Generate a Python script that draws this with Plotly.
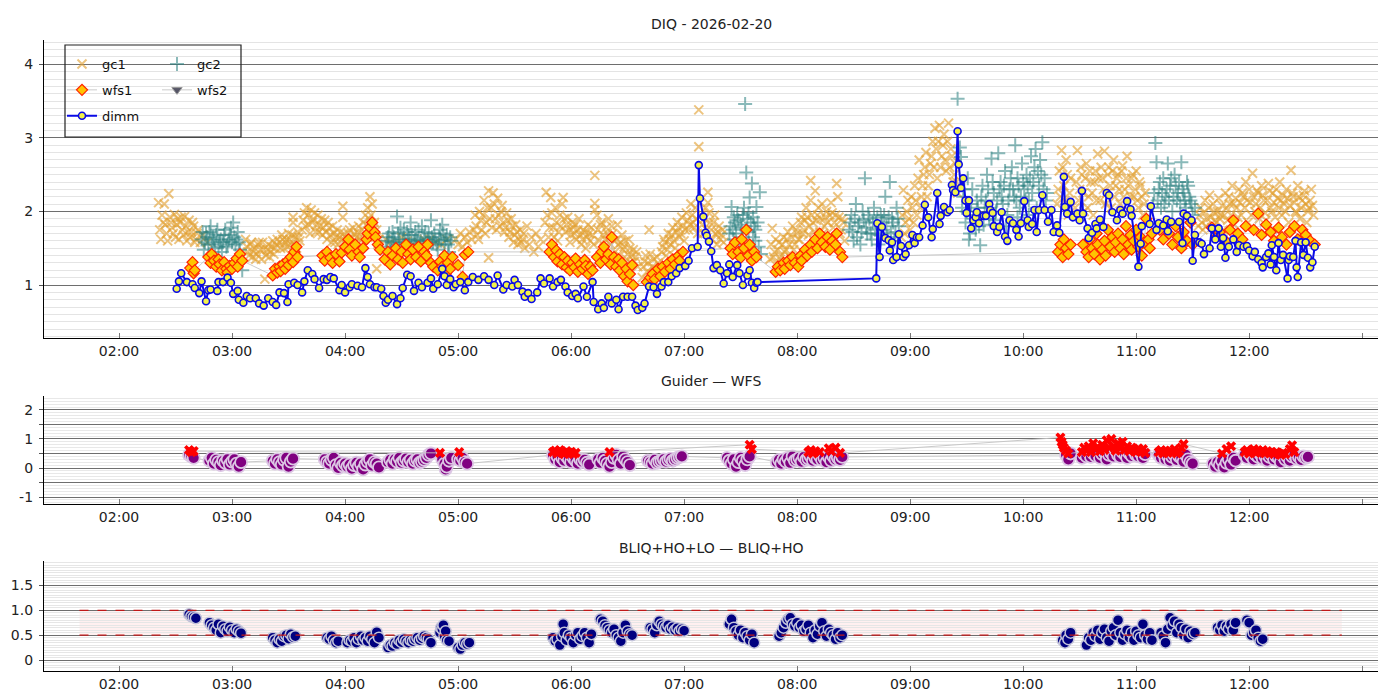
import pandas as pd
import plotly.graph_objects as go

# ---------------- data (hours after midnight, 2026-02-20) ----------------
gc1_h = [2.35, 2.37, 2.39, 2.40, 2.42, 2.44, 2.45, 2.47, 2.49, 2.50, 2.52, 2.54, 2.56, 2.58, 2.60, 2.62, 2.64, 2.66, 2.68, 2.70, 2.72,
         2.74, 2.78,
         3.12, 3.14, 3.16, 3.18, 3.20, 3.22, 3.24, 3.26, 3.28, 3.29, 3.30, 3.32, 3.34, 3.36, 3.38, 3.40,
         3.42, 3.44, 3.46, 3.48, 3.50, 3.52, 3.54, 3.54, 3.56, 3.58, 3.60,
         3.62, 3.64, 3.66, 3.68, 3.70, 3.72, 3.74, 3.76, 3.78, 3.80, 3.82, 3.84, 3.86, 3.88, 3.90, 3.92, 3.94, 3.96, 3.98, 3.98, 4.00,
         4.02, 4.04, 4.06, 4.08, 4.10, 4.12, 4.14, 4.16, 4.18, 4.20, 4.22, 4.24, 4.26, 4.28, 4.28, 4.30,
         4.36, 4.45, 4.55, 4.65, 4.75, 4.85,
         4.98, 5.00, 5.02, 5.04, 5.06, 5.08, 5.10, 5.12, 5.14,
         5.15, 5.17, 5.19, 5.21, 5.23, 5.25, 5.27, 5.27, 5.29, 5.31, 5.33, 5.35, 5.37, 5.39, 5.41, 5.43, 5.45, 5.47, 5.49, 5.51, 5.53, 5.55, 5.57, 5.59,
         5.61, 5.63, 5.65, 5.67, 5.69, 5.71, 5.73,
         5.77, 5.78, 5.80, 5.82, 5.84, 5.86, 5.88, 5.90, 5.92, 5.93, 5.95, 5.97, 5.99, 6.01, 6.03, 6.05, 6.07, 6.09, 6.11, 6.13, 6.15, 6.17, 6.19, 6.21, 6.21, 6.21,
         6.23, 6.25, 6.27, 6.29, 6.31, 6.33, 6.35, 6.37, 6.39, 6.41, 6.43, 6.45, 6.47, 6.49, 6.51, 6.53, 6.55, 6.57, 6.59,
         6.63, 6.65, 6.67, 6.69, 6.70, 6.72, 6.74, 6.76, 6.78,
         6.80, 6.82, 6.84, 6.86, 6.88, 6.90, 6.92, 6.94, 6.96, 6.98, 7.00, 7.02, 7.04, 7.06, 7.08, 7.10, 7.12, 7.13, 7.13,
         7.15, 7.17, 7.19, 7.21, 7.21, 7.23, 7.25, 7.27, 7.29, 7.31, 7.33, 7.35,
         7.76, 7.78, 7.80, 7.82, 7.84, 7.86, 7.88, 7.90, 7.92, 7.94, 7.96, 7.98, 8.00, 8.02, 8.04, 8.06, 8.08, 8.10, 8.12, 8.12,
         8.14, 8.16, 8.18, 8.20, 8.22, 8.24, 8.26, 8.28, 8.30, 8.32, 8.34, 8.35, 8.36, 8.38, 8.40, 8.42,
         8.92, 8.94, 8.96, 8.98, 9.00, 9.02, 9.04, 9.06, 9.08, 9.10, 9.12, 9.14, 9.16, 9.18, 9.20, 9.22, 9.24, 9.26, 9.28, 9.30, 9.32, 9.34, 9.36, 9.38, 9.40, 9.42,
         10.30, 10.32, 10.34, 10.36, 10.38, 10.40, 10.42,
         10.46, 10.48, 10.50, 10.52, 10.54, 10.56, 10.58, 10.60, 10.62, 10.64, 10.66, 10.68, 10.70, 10.72, 10.74, 10.76,
         10.78, 10.80, 10.82, 10.84, 10.86, 10.88, 10.90, 10.92, 10.94, 10.96, 10.98, 11.00, 11.02, 11.04, 11.06, 11.08,
         11.55, 11.57, 11.59, 11.61, 11.63, 11.65, 11.67, 11.69, 11.71, 11.73, 11.75, 11.77, 11.79, 11.81, 11.83, 11.85, 11.87, 11.89,
         11.91, 11.93, 11.95, 11.97, 11.99, 12.01, 12.03, 12.05, 12.07, 12.09, 12.11, 12.13, 12.15, 12.17, 12.19, 12.21, 12.23, 12.25,
         12.27, 12.29, 12.31, 12.33, 12.35, 12.37, 12.39, 12.41, 12.43, 12.45, 12.47, 12.49, 12.51, 12.53, 12.55, 12.57,
         # denser readings inside the bands
         2.36, 2.38, 2.41, 2.43, 2.46, 2.48, 2.51, 2.53, 2.55, 2.57, 2.59, 2.61, 2.63, 2.65, 2.67, 2.69,
         3.13, 3.15, 3.17, 3.19, 3.21, 3.23, 3.25, 3.27, 3.31, 3.33, 3.35, 3.37, 3.39,
         3.43, 3.45, 3.47, 3.49, 3.51, 3.53, 3.55, 3.57, 3.59,
         3.63, 3.65, 3.67, 3.69, 3.71, 3.73, 3.75, 3.77, 3.79, 3.81, 3.83, 3.85, 3.87, 3.89, 3.91, 3.93, 3.95, 3.97, 3.99,
         4.03, 4.05, 4.07, 4.09, 4.11, 4.13, 4.15, 4.17, 4.19, 4.21, 4.23, 4.25, 4.27, 4.29,
         4.40, 4.50, 4.60, 4.70, 4.80, 4.90,
         5.16, 5.18, 5.20, 5.22, 5.24, 5.26, 5.28, 5.30, 5.32, 5.34, 5.36, 5.38, 5.40, 5.42, 5.44, 5.46, 5.48, 5.50, 5.52, 5.54, 5.56, 5.58,
         5.79, 5.81, 5.83, 5.85, 5.87, 5.89, 5.91, 5.94, 5.96, 5.98, 6.00, 6.02, 6.04, 6.06, 6.08, 6.10, 6.12, 6.14, 6.16, 6.18, 6.20,
         6.24, 6.26, 6.28, 6.30, 6.32, 6.34, 6.36, 6.38, 6.40, 6.42, 6.44, 6.46, 6.48, 6.50, 6.52, 6.54, 6.56, 6.58,
         6.64, 6.66, 6.68, 6.71, 6.73, 6.75, 6.77,
         6.81, 6.83, 6.85, 6.87, 6.89, 6.91, 6.93, 6.95, 6.97, 6.99, 7.01, 7.03, 7.05, 7.07, 7.09, 7.11,
         7.16, 7.18, 7.20, 7.22, 7.24, 7.26, 7.28, 7.30, 7.32, 7.34,
         7.77, 7.79, 7.81, 7.83, 7.85, 7.87, 7.89, 7.91, 7.93, 7.95, 7.97, 7.99, 8.01, 8.03, 8.05, 8.07, 8.09, 8.11, 8.13, 8.15,
         8.17, 8.19, 8.21, 8.23, 8.25, 8.27, 8.29, 8.31, 8.33, 8.37, 8.39, 8.41,
         8.93, 8.95, 8.97, 8.99, 9.01, 9.03, 9.05, 9.07, 9.09, 9.11, 9.13, 9.15, 9.17, 9.19, 9.21, 9.23, 9.25, 9.27, 9.29, 9.31,
         9.33, 9.35, 9.37, 9.39, 9.41,
         10.31, 10.33, 10.35, 10.37, 10.39, 10.41,
         10.47, 10.49, 10.51, 10.53, 10.55, 10.57, 10.59, 10.61, 10.63, 10.65, 10.67, 10.69, 10.71, 10.73, 10.75, 10.77,
         10.79, 10.81, 10.83, 10.85, 10.87, 10.89, 10.91, 10.93, 10.95, 10.97, 10.99, 11.01, 11.03, 11.05, 11.07,
         11.56, 11.58, 11.60, 11.62, 11.64, 11.66, 11.68, 11.70, 11.72, 11.74, 11.76, 11.78, 11.80, 11.82, 11.84, 11.86, 11.88,
         11.90, 11.92, 11.94, 11.96, 11.98, 12.00, 12.02, 12.04, 12.06, 12.08, 12.10, 12.12, 12.14, 12.16, 12.18, 12.20, 12.22,
         12.24, 12.26, 12.28, 12.30, 12.32, 12.34, 12.36, 12.38, 12.40, 12.42, 12.44, 12.46, 12.48, 12.50, 12.52, 12.54, 12.56]
gc1_v = [2.12, 1.62, 1.85, 2.10, 1.70, 2.24, 1.92, 1.78, 1.96, 1.65, 1.90, 1.85, 1.75, 1.93, 1.60, 1.88, 1.72, 1.80, 1.62, 1.75, 1.58,
         1.68, 1.58,
         1.62, 1.45, 1.55, 1.38, 1.50, 1.42, 1.58, 1.35, 1.48, 1.08, 1.40, 1.55, 1.45, 1.60, 1.50, 1.62,
         1.58, 1.68, 1.50, 1.62, 1.70, 1.55, 1.92, 1.85, 1.65, 1.72, 1.60,
         1.75, 1.98, 2.05, 1.82, 2.02, 1.90, 1.72, 1.95, 1.80, 1.68, 1.88, 1.62, 1.78, 1.58, 1.70, 1.65, 1.55, 1.72, 2.07, 1.92, 1.60,
         1.62, 1.75, 1.58, 1.70, 1.65, 1.80, 1.60, 1.85, 1.95, 2.05, 2.20, 2.10, 1.85, 1.75, 1.22, 1.62,
         1.62, 1.55, 1.60, 1.58, 1.62, 1.55,
         1.62, 1.55, 1.70, 1.52, 1.65, 1.58, 1.72, 1.62, 1.75,
         1.95, 1.68, 2.00, 1.75, 2.15, 1.85, 2.28, 1.37, 2.05, 2.25, 1.90, 2.18, 1.80, 2.08, 1.72, 1.98, 1.65, 1.90, 1.58, 1.82, 1.55, 1.75, 1.62, 1.50,
         1.80, 1.55, 1.65, 1.45, 1.70, 1.52, 1.62,
         1.85, 2.26, 1.65, 2.19, 1.78, 2.05, 1.60, 1.95, 2.10, 2.19, 1.72, 1.92, 1.58, 1.85, 1.70, 1.62, 1.90, 1.55, 1.75, 1.50, 1.82, 1.60, 1.68, 2.49, 2.11, 2.02,
         1.95, 1.60, 1.85, 1.50, 1.78, 1.90, 1.55, 1.70, 1.45, 1.82, 1.40, 1.68, 1.52, 1.35, 1.62, 1.30, 1.48, 1.38, 1.25,
         1.10, 1.32, 1.18, 1.75, 1.42, 1.25, 1.05, 1.38, 1.20,
         1.45, 1.62, 1.40, 1.70, 1.55, 1.78, 1.50, 1.85, 1.65, 1.92, 1.60, 1.98, 1.75, 2.10, 1.85, 2.05, 1.70, 3.38, 2.88,
         1.95, 1.70, 2.05, 2.26, 2.12, 1.85, 1.62, 1.95, 1.55, 1.80, 1.68, 1.58,
         1.35, 1.77, 1.45, 1.30, 1.58, 1.40, 1.65, 1.48, 1.72, 1.38, 1.80, 1.55, 1.70, 1.62, 1.92, 1.75, 2.05, 1.68, 2.42, 2.15,
         1.85, 2.28, 1.95, 1.72, 2.10, 1.80, 2.00, 1.65, 2.12, 1.78, 1.95, 2.38, 2.20, 1.70, 1.90, 1.60,
         1.65, 2.29, 1.85, 2.15, 1.75, 2.05, 2.35, 1.95, 2.70, 2.20, 2.50, 2.80, 2.35, 2.65, 2.95, 3.13, 2.45, 3.17, 2.75, 3.05, 2.55, 3.20, 2.85, 2.40, 2.65, 2.25,
         2.10, 2.55, 2.83, 2.35, 2.70, 1.95, 2.45,
         2.05, 2.83, 2.30, 2.50, 2.00, 2.65, 2.20, 2.40, 1.95, 2.55, 2.78, 2.15, 2.45, 2.82, 2.25, 2.60,
         2.05, 2.70, 2.35, 2.50, 2.10, 2.62, 2.30, 2.75, 2.00, 2.45, 2.20, 2.55, 2.05, 2.35, 1.95, 2.25,
         1.80, 2.05, 1.75, 2.15, 1.90, 2.22, 1.78, 2.00, 1.85, 2.18, 1.95, 1.75, 2.25, 1.88, 2.10, 2.35, 1.82, 2.05,
         2.30, 1.95, 2.20, 2.40, 1.85, 2.12, 2.52, 2.00, 2.28, 1.90, 2.35, 2.15, 1.88, 2.38, 2.05, 2.25, 1.92, 2.18,
         2.40, 1.95, 2.10, 2.30, 1.85, 2.56, 2.20, 2.00, 2.35, 1.90, 2.15, 2.28, 1.85, 2.05, 2.30, 1.95,
         # denser readings inside the bands
         1.75, 1.95, 1.82, 1.60, 1.85, 1.70, 1.82, 1.62, 1.92, 1.68, 1.80, 1.72, 1.65, 1.85, 1.58, 1.70,
         1.52, 1.40, 1.58, 1.45, 1.35, 1.55, 1.48, 1.58, 1.48, 1.38, 1.52, 1.42, 1.55,
         1.50, 1.62, 1.58, 1.52, 1.62, 1.68, 1.55, 1.50, 1.65,
         1.88, 1.80, 1.95, 1.70, 1.85, 1.98, 1.82, 1.72, 1.90, 1.78, 1.72, 1.85, 1.68, 1.80, 1.58, 1.75, 1.65, 1.62, 1.70,
         1.70, 1.62, 1.78, 1.58, 1.72, 1.65, 1.75, 1.68, 1.82, 1.90, 1.95, 1.75, 1.65, 1.55,
         1.58, 1.65, 1.55, 1.62, 1.58, 1.62,
         1.80, 1.62, 1.88, 1.95, 1.70, 2.05, 1.90, 1.78, 2.10, 1.75, 1.95, 2.00, 1.85, 1.78, 1.88, 1.72, 1.80, 1.68, 1.72, 1.62, 1.58, 1.70,
         1.95, 1.78, 1.98, 1.65, 1.85, 1.72, 1.80, 1.90, 1.82, 1.75, 1.68, 1.78, 1.82, 1.75, 1.68, 1.62, 1.72, 1.65, 1.70, 1.78, 1.55,
         1.75, 1.82, 1.68, 1.62, 1.70, 1.65, 1.80, 1.60, 1.62, 1.55, 1.58, 1.48, 1.60, 1.42, 1.50, 1.40, 1.32, 1.45,
         1.25, 1.40, 1.30, 1.15, 1.35, 1.22, 1.30,
         1.52, 1.58, 1.48, 1.62, 1.68, 1.60, 1.72, 1.78, 1.70, 1.80, 1.75, 1.88, 1.82, 1.95, 1.78, 1.90,
         1.82, 1.90, 1.75, 1.98, 1.75, 1.85, 1.70, 1.72, 1.62, 1.75,
         1.55, 1.38, 1.62, 1.48, 1.35, 1.55, 1.45, 1.62, 1.55, 1.65, 1.48, 1.75, 1.62, 1.85, 1.70, 1.88, 1.92, 1.80, 1.95, 1.72,
         1.88, 2.05, 1.90, 1.70, 1.92, 1.85, 1.95, 1.98, 1.85, 1.92, 1.75, 1.85,
         1.95, 1.70, 2.00, 1.90, 2.20, 1.85, 2.15, 2.45, 2.05, 2.35, 2.60, 2.20, 2.50, 2.75, 2.60, 2.85, 2.95, 2.60, 2.90, 2.70,
         2.95, 2.60, 2.75, 2.50, 2.40,
         2.30, 2.20, 2.60, 2.15, 2.50, 2.25,
         2.40, 2.15, 2.60, 2.25, 2.45, 2.05, 2.55, 2.25, 2.40, 2.15, 2.45, 2.60, 2.30, 2.10, 2.50, 2.35,
         2.55, 2.20, 2.45, 2.30, 2.55, 2.20, 2.45, 2.35, 2.20, 2.50, 2.30, 2.15, 2.40, 2.20, 2.10,
         1.95, 1.85, 1.98, 1.80, 2.05, 1.92, 2.10, 1.88, 2.00, 1.90, 2.08, 1.95, 2.05, 2.20, 1.95, 2.10, 2.18,
         1.92, 2.12, 2.25, 2.05, 2.15, 2.30, 1.95, 2.20, 2.10, 2.25, 2.05, 2.22, 1.98, 2.15, 2.28, 2.00, 2.12,
         2.30, 2.05, 2.15, 2.22, 2.00, 2.18, 2.08, 2.25, 2.12, 1.98, 2.20, 2.05, 2.22, 2.10, 2.00, 2.15, 2.08]

gc2_h = [2.73, 2.75, 2.77, 2.79, 2.81, 2.83, 2.85, 2.87, 2.89, 2.91, 2.93, 2.95, 2.97, 2.99, 3.01, 3.03, 3.05, 3.07, 3.09,
         4.36, 4.38, 4.40, 4.42, 4.44, 4.46, 4.48, 4.50, 4.52, 4.54, 4.56, 4.58, 4.60, 4.62, 4.64, 4.66, 4.68, 4.70, 4.72, 4.74,
         4.76, 4.78, 4.80, 4.82, 4.84, 4.86, 4.88, 4.90, 4.92, 4.94,
         7.40, 7.42, 7.43, 7.44, 7.45, 7.47, 7.48, 7.49, 7.51, 7.52, 7.53, 7.54, 7.55, 7.56, 7.57, 7.58, 7.60, 7.61, 7.62, 7.63,
         7.64, 7.66, 7.67, 7.68,
         8.46, 8.48, 8.50, 8.52, 8.54, 8.56, 8.58, 8.60, 8.62, 8.64, 8.66, 8.68, 8.70, 8.72, 8.74, 8.76, 8.78, 8.80, 8.82, 8.84,
         8.86, 8.88, 8.90,
         9.42, 9.44, 9.45, 9.47, 9.49, 9.51, 9.53, 9.55, 9.57, 9.59, 9.61, 9.62, 9.64, 9.66, 9.68, 9.70, 9.72, 9.74, 9.76, 9.78,
         9.80, 9.82, 9.84, 9.86, 9.88, 9.90, 9.92, 9.93, 9.95, 9.97, 9.99, 10.01, 10.03, 10.05, 10.07, 10.09, 10.11, 10.13, 10.15, 10.17,
         10.19, 10.21,
         9.52, 9.58, 9.65, 9.75, 9.85, 9.95, 10.05, 10.12,
         11.15, 11.17, 11.18, 11.20, 11.22, 11.24, 11.26, 11.28, 11.30, 11.32, 11.34, 11.36, 11.38, 11.40, 11.42, 11.44, 11.46, 11.48,
         11.50, 11.52,
         # denser readings inside the bands
         2.74, 2.76, 2.78, 2.80, 2.82, 2.84, 2.86, 2.88, 2.90, 2.92, 2.94, 2.96, 2.98, 3.00, 3.02, 3.04, 3.06,
         4.37, 4.39, 4.41, 4.43, 4.45, 4.47, 4.49, 4.51, 4.53, 4.55, 4.57, 4.59, 4.61, 4.63, 4.65, 4.67, 4.69, 4.71, 4.73, 4.75,
         4.77, 4.79, 4.81, 4.83, 4.85, 4.87, 4.89, 4.91, 4.93,
         7.41, 7.44, 7.46, 7.50, 7.52, 7.55, 7.57, 7.59, 7.61, 7.63, 7.65,
         8.47, 8.49, 8.51, 8.53, 8.55, 8.57, 8.59, 8.61, 8.63, 8.65, 8.67, 8.69, 8.71, 8.73, 8.75, 8.77, 8.79, 8.81, 8.83, 8.85,
         8.87, 8.89,
         9.46, 9.48, 9.50, 9.54, 9.56, 9.60, 9.63, 9.67, 9.69, 9.71, 9.73, 9.77, 9.79, 9.81, 9.83, 9.87, 9.89, 9.91, 9.94, 9.96,
         9.98, 10.00, 10.02, 10.04, 10.06, 10.08, 10.10, 10.14, 10.16, 10.18, 10.20,
         11.16, 11.19, 11.21, 11.23, 11.25, 11.27, 11.29, 11.31, 11.33, 11.35, 11.37, 11.39, 11.41, 11.43, 11.45, 11.47, 11.49]
gc2_v = [1.62, 1.48, 1.70, 1.55, 1.80, 1.65, 1.50, 1.75, 1.58, 1.45, 1.68, 1.52, 1.62, 1.78, 1.85, 1.55, 1.72, 1.48, 1.20,
         1.52, 1.65, 1.45, 1.72, 1.58, 1.93, 1.62, 1.50, 1.75, 1.55, 1.68, 1.85, 1.48, 1.72, 1.60, 1.55, 1.80, 1.65, 1.50, 1.70,
         1.88, 1.58, 1.62, 1.48, 1.75, 1.82, 1.55, 1.68, 1.45, 1.60,
         1.70, 2.06, 1.75, 1.62, 1.85, 1.95, 1.88, 1.55, 1.78, 1.65, 2.05, 3.46, 2.53, 1.90, 1.72, 2.19, 2.38, 1.65, 1.80, 1.60,
         2.06, 1.52, 2.26, 1.42,
         1.75, 1.95, 1.60, 2.10, 1.80, 1.55, 2.00, 2.45, 1.70, 1.90, 1.62, 2.05, 1.85, 1.55, 1.95, 1.75, 2.20, 1.65, 2.40, 1.90,
         1.60, 2.05, 1.80,
         3.53, 2.87, 2.74, 2.20, 1.85, 2.45, 1.70, 2.30, 1.95, 2.15, 1.80, 1.54, 2.35, 2.05, 2.50, 1.90, 2.72, 2.25, 2.00, 2.79,
         2.40, 2.10, 2.55, 1.95, 2.30, 2.60, 2.20, 2.90, 2.45, 2.05, 2.65, 2.30, 2.50, 2.15, 2.75, 2.40, 2.85, 2.55, 2.70, 2.94,
         2.45, 2.25,
         1.62, 1.75, 1.82, 1.88, 1.80, 1.92, 1.95, 2.05,
         2.10, 2.93, 2.67, 2.30, 2.05, 2.45, 2.20, 2.65, 2.35, 2.00, 2.50, 2.15, 2.40, 2.67, 2.25, 2.05, 2.35, 2.15,
         1.95, 2.05,
         # denser readings inside the bands
         1.72, 1.58, 1.65, 1.72, 1.55, 1.62, 1.68, 1.52, 1.62, 1.58, 1.75, 1.55, 1.68, 1.58, 1.65, 1.62, 1.58,
         1.60, 1.70, 1.58, 1.65, 1.55, 1.70, 1.78, 1.62, 1.58, 1.72, 1.62, 1.68, 1.58, 1.62, 1.75, 1.60, 1.55, 1.72, 1.62, 1.58,
         1.65, 1.70, 1.55, 1.65, 1.60, 1.70, 1.62, 1.55, 1.65,
         1.80, 1.92, 1.70, 1.82, 1.95, 1.75, 1.98, 1.85, 1.92, 1.75, 1.85,
         1.85, 1.72, 1.90, 1.65, 1.85, 1.72, 1.88, 1.78, 1.95, 1.70, 1.85, 1.75, 1.92, 1.68, 1.85, 1.95, 1.80, 1.92, 1.70, 1.85,
         1.72, 1.90,
         2.05, 2.30, 2.00, 2.10, 1.90, 2.05, 2.20, 2.15, 2.30, 2.05, 2.40, 2.15, 2.30, 2.20, 2.35, 2.15, 2.45, 2.30, 2.15, 2.35,
         2.20, 2.40, 2.15, 2.35, 2.45, 2.25, 2.60, 2.35, 2.50, 2.30, 2.15,
         2.25, 2.15, 2.40, 2.25, 2.10, 2.30, 2.15, 2.45, 2.20, 2.35, 2.25, 2.10, 2.30, 2.15, 2.40, 2.20, 2.10]

wfs1_h = [2.63, 2.65, 2.66, 2.67,
          2.79, 2.81, 2.82, 2.84, 2.86, 2.88, 2.89, 2.91, 2.93, 2.95, 2.96, 2.98, 3.00, 3.02, 3.04, 3.05, 3.07, 3.09,
          3.36, 3.38, 3.40, 3.42, 3.43, 3.45, 3.47, 3.49, 3.50, 3.52, 3.54, 3.55, 3.57, 3.58,
          3.80, 3.82, 3.84, 3.87, 3.89, 3.92, 3.95,
          3.97, 4.00, 4.03, 4.04, 4.06, 4.09, 4.12, 4.13, 4.16, 4.19, 4.20, 4.22, 4.24, 4.26, 4.27, 4.29, 4.31,
          4.35, 4.38, 4.40, 4.42, 4.45, 4.47, 4.50, 4.51, 4.54, 4.56, 4.58, 4.60, 4.63, 4.65, 4.67, 4.70, 4.72, 4.73, 4.76, 4.78,
          4.82, 4.84, 4.86, 4.88, 4.89, 4.91, 4.93, 4.95, 5.00, 5.04, 5.06, 5.09,
          5.81, 5.83, 5.85, 5.87, 5.88, 5.90, 5.92, 5.94, 5.96, 5.97, 5.99, 6.01, 6.03, 6.04, 6.06, 6.08, 6.10, 6.12, 6.13, 6.15, 6.17, 6.19,
          6.23, 6.26, 6.27, 6.29, 6.31, 6.33, 6.35, 6.36, 6.38, 6.40, 6.42, 6.43, 6.45, 6.47, 6.49, 6.50, 6.52, 6.54, 6.55,
          6.67, 6.70, 6.72, 6.74, 6.77, 6.79, 6.81, 6.83, 6.86, 6.88, 6.90, 6.92, 6.95, 6.96, 6.99,
          7.41, 7.43, 7.45, 7.48, 7.50, 7.51, 7.53, 7.55, 7.57, 7.58, 7.60, 7.62, 7.64,
          7.81, 7.83, 7.85, 7.88, 7.89, 7.92, 7.94, 7.96, 7.98, 8.01, 8.03, 8.04, 8.07, 8.09, 8.12, 8.13, 8.16, 8.18, 8.20, 8.22,
          8.25, 8.27, 8.29, 8.31, 8.34, 8.35, 8.38, 8.40,
          10.31, 10.33, 10.35, 10.36, 10.38, 10.40, 10.42,
          10.53, 10.56, 10.58, 10.59, 10.61, 10.63, 10.65, 10.66, 10.68, 10.70, 10.72, 10.73, 10.75, 10.77, 10.79, 10.81, 10.82, 10.84,
          10.86, 10.88, 10.89, 10.91, 10.93, 10.95, 10.96, 10.98, 11.00, 11.02, 11.04, 11.05, 11.07, 11.09, 11.11, 11.12, 11.14,
          11.21, 11.24, 11.27, 11.29, 11.32, 11.35, 11.37, 11.40, 11.42, 11.45, 11.48, 11.50,
          11.67, 11.71, 11.74, 11.79, 11.83, 11.86, 11.90, 11.94, 11.97, 12.04, 12.08, 12.11, 12.15, 12.19, 12.22, 12.26, 12.29, 12.33,
          12.36, 12.40, 12.43, 12.47, 12.50, 12.54, 12.58]
wfs1_v = [1.23, 1.31, 1.16, 1.20,
          1.38, 1.30, 1.42, 1.33, 1.25, 1.35, 1.28, 1.20, 1.31, 1.22, 1.17, 1.26, 1.22, 1.30, 1.36, 1.25, 1.42, 1.33,
          1.13, 1.22, 1.17, 1.25, 1.19, 1.28, 1.22, 1.33, 1.27, 1.38, 1.31, 1.45, 1.52, 1.38,
          1.40, 1.33, 1.45, 1.37, 1.30, 1.42, 1.32,
          1.44, 1.52, 1.62, 1.48, 1.40, 1.55, 1.45, 1.38, 1.50, 1.62, 1.70, 1.78, 1.85, 1.72, 1.65, 1.55, 1.48,
          1.35, 1.45, 1.28, 1.40, 1.50, 1.35, 1.45, 1.30, 1.55, 1.42, 1.35, 1.48, 1.38, 1.52, 1.32, 1.45, 1.40, 1.55, 1.30, 1.25,
          1.20, 1.32, 1.25, 1.40, 1.15, 1.30, 1.22, 1.38, 1.27, 1.11, 1.41, 1.45,
          1.45, 1.55, 1.38, 1.47, 1.32, 1.42, 1.28, 1.38, 1.24, 1.33, 1.20, 1.30, 1.24, 1.36, 1.18, 1.28, 1.22, 1.34, 1.26, 1.15, 1.25, 1.20,
          1.38, 1.30, 1.45, 1.52, 1.35, 1.42, 1.28, 1.65, 1.38, 1.25, 1.35, 1.20, 1.30, 1.12, 1.22, 1.05, 1.15, 1.27, 1.00,
          1.04, 1.10, 1.15, 1.08, 1.22, 1.12, 1.25, 1.18, 1.30, 1.22, 1.35, 1.28, 1.40, 1.33, 1.45,
          1.50, 1.42, 1.58, 1.45, 1.37, 1.62, 1.50, 1.75, 1.40, 1.55, 1.33, 1.45, 1.38,
          1.18, 1.25, 1.20, 1.30, 1.22, 1.33, 1.27, 1.38, 1.30, 1.25, 1.40, 1.33, 1.48, 1.40, 1.55, 1.45, 1.62, 1.50, 1.70, 1.58,
          1.52, 1.65, 1.48, 1.60, 1.55, 1.70, 1.45, 1.38,
          1.45, 1.55, 1.38, 1.62, 1.50, 1.42, 1.55,
          1.55, 1.45, 1.38, 1.62, 1.50, 1.42, 1.70, 1.55, 1.35, 1.48, 1.60, 1.40, 1.75, 1.52, 1.65, 1.45, 1.58, 1.70,
          1.50, 1.62, 1.42, 1.80, 1.55, 1.68, 1.48, 1.60, 1.75, 1.52, 1.65, 1.40, 1.58, 1.90, 1.62, 1.50, 1.70,
          1.75, 1.62, 1.85, 1.70, 1.55, 1.80, 1.65, 1.50, 1.72, 1.60, 1.85, 1.55,
          1.78, 1.65, 1.72, 1.60, 1.75, 1.88, 1.70, 1.62, 1.80, 1.75, 1.97, 1.68, 1.82, 1.72, 1.60, 1.78, 1.65, 1.55,
          1.72, 1.80, 1.62, 1.75, 1.68, 1.60, 1.55]

dimm_h = [2.51, 2.53, 2.55, 2.60, 2.65, 2.67, 2.71, 2.73, 2.77, 2.79, 2.81, 2.87, 2.88, 2.92, 2.96, 2.99, 3.01, 3.05, 3.06, 3.10,
          3.13, 3.16, 3.21, 3.24, 3.28, 3.32, 3.36, 3.39, 3.42, 3.46, 3.49, 3.50, 3.55, 3.58, 3.62, 3.64, 3.67, 3.71, 3.73, 3.77,
          3.81, 3.84, 3.87, 3.90, 3.95, 3.97, 4.00, 4.04, 4.06, 4.11, 4.15, 4.18, 4.20, 4.22, 4.26, 4.28, 4.32, 4.34, 4.36, 4.38,
          4.42, 4.46, 4.49, 4.51, 4.55, 4.58, 4.61, 4.65, 4.68, 4.73, 4.76, 4.78, 4.82, 4.86, 4.88, 4.90, 4.93, 4.96, 4.98, 5.02,
          5.06, 5.09, 5.13, 5.18, 5.23, 5.27, 5.32, 5.35, 5.40, 5.43, 5.48, 5.50, 5.53, 5.57, 5.59, 5.62, 5.65, 5.70, 5.73, 5.76,
          5.81, 5.84, 5.88, 5.91, 5.95, 5.97, 6.01, 6.04, 6.06, 6.11, 6.14, 6.19, 6.20, 6.24, 6.27, 6.29, 6.33, 6.36, 6.40, 6.42,
          6.46, 6.50, 6.54, 6.57, 6.59, 6.63, 6.65, 6.69, 6.73, 6.76, 6.80, 6.82, 6.86, 6.89, 6.93, 6.96, 7.01, 7.04, 7.07, 7.12,
          7.13, 7.14, 7.17, 7.19, 7.20, 7.22, 7.24, 7.26, 7.29, 7.32, 7.35, 7.38, 7.40, 7.43, 7.47, 7.49, 7.52, 7.56, 7.58, 7.60,
          7.62, 7.64, 7.65,
          8.70, 8.71, 8.73, 8.75, 8.78, 8.81, 8.82, 8.84, 8.85, 8.88, 8.90, 8.92, 8.94, 8.96, 8.99, 9.02, 9.04, 9.06, 9.08, 9.11,
          9.13, 9.16, 9.19, 9.20, 9.24, 9.26, 9.27, 9.30, 9.33, 9.35, 9.37, 9.38, 9.40, 9.42, 9.43, 9.45, 9.47, 9.49, 9.50, 9.52,
          9.54, 9.56, 9.58, 9.59, 9.61, 9.65, 9.67, 9.70, 9.71, 9.73, 9.74, 9.77, 9.79, 9.81, 9.84, 9.86, 9.88, 9.91, 9.94, 9.96,
          9.98, 10.01, 10.04, 10.05, 10.08, 10.10, 10.12, 10.14, 10.17, 10.19, 10.22, 10.25, 10.27, 10.30, 10.32, 10.36, 10.37, 10.39, 10.42, 10.44,
          10.48, 10.50, 10.52, 10.53, 10.57, 10.58, 10.61, 10.64, 10.65, 10.68, 10.71, 10.74, 10.76, 10.79, 10.83, 10.86, 10.88, 10.92, 10.95, 10.96,
          11.02, 11.04, 11.05, 11.12, 11.13, 11.18, 11.20, 11.24, 11.27, 11.28, 11.31, 11.38, 11.41, 11.42, 11.45, 11.49, 11.50, 11.52, 11.56, 11.58,
          11.60, 11.65, 11.67, 11.70, 11.73, 11.75, 11.77, 11.79, 11.82, 11.86, 11.89, 11.91, 11.95, 11.98, 12.00, 12.03, 12.05, 12.08, 12.11, 12.12,
          12.15, 12.17, 12.19, 12.20, 12.22, 12.24, 12.26, 12.28, 12.30, 12.34, 12.35, 12.36, 12.39, 12.41, 12.42, 12.43, 12.46, 12.48, 12.50, 12.52,
          12.54, 12.56, 12.58]
dimm_v = [0.95, 1.05, 1.16, 1.04, 1.01, 0.96, 0.89, 1.05, 0.78, 0.93, 0.94, 0.92, 1.04, 1.04, 1.10, 1.03, 0.88, 0.92, 0.80, 0.76,
          0.85, 0.82, 0.82, 0.75, 0.72, 0.82, 0.77, 0.73, 0.90, 0.89, 0.77, 1.01, 1.03, 1.00, 0.90, 1.05, 1.20, 1.15, 1.08, 0.96,
          1.08, 1.07, 1.11, 1.09, 0.93, 1.00, 0.90, 0.97, 1.01, 0.99, 0.97, 1.23, 1.11, 1.01, 0.97, 0.97, 0.95, 0.85, 0.76, 0.80,
          0.85, 0.74, 0.82, 0.96, 1.14, 1.12, 0.92, 1.03, 0.97, 1.03, 1.09, 0.95, 1.01, 1.22, 1.12, 1.00, 1.08, 0.97, 1.01, 1.04,
          0.93, 1.04, 1.11, 1.07, 1.12, 1.07, 1.00, 1.13, 0.94, 1.00, 0.98, 1.07, 1.00, 0.91, 0.84, 0.89, 0.81, 0.90, 1.09, 1.02,
          1.09, 0.98, 1.04, 1.07, 0.98, 0.90, 0.85, 0.88, 0.82, 0.98, 0.84, 1.04, 0.77, 0.67, 0.75, 0.69, 0.84, 0.75, 0.80, 0.67,
          0.84, 0.84, 0.84, 0.72, 0.66, 0.69, 0.75, 0.98, 0.97, 0.88, 0.98, 1.04, 1.04, 1.12, 1.16, 1.23, 1.26, 1.33, 1.50, 1.52,
          2.63, 2.18, 1.93, 1.71, 1.67, 1.59, 1.46, 1.23, 1.27, 1.20, 1.02, 1.16, 1.28, 1.11, 1.27, 1.16, 1.00, 1.13, 1.20, 1.03,
          0.96, 1.03, 1.04,
          1.09, 1.84, 1.38, 1.79, 1.64, 1.61, 1.47, 1.58, 1.34, 1.38, 1.69, 1.53, 1.38, 1.42, 1.54, 1.68, 1.57, 1.65, 1.65, 1.81,
          2.09, 1.92, 1.65, 1.76, 2.25, 1.83, 1.94, 2.06, 1.99, 2.02, 2.36, 2.29, 2.26, 3.09, 2.64, 2.32, 2.45, 2.15, 1.98, 2.15,
          1.77, 1.88, 1.92, 1.99, 1.84, 1.94, 1.94, 2.10, 2.02, 1.98, 1.80, 1.72, 1.79, 1.99, 1.66, 1.60, 1.88, 1.84, 1.75, 1.66,
          1.84, 2.14, 1.88, 1.79, 1.83, 2.02, 1.72, 2.02, 2.22, 2.02, 1.86, 2.02, 1.72, 1.81, 1.71, 2.47, 2.06, 1.97, 2.13, 1.92,
          1.97, 1.88, 2.28, 1.97, 1.77, 1.64, 1.71, 1.83, 1.77, 1.89, 1.79, 2.25, 2.22, 1.99, 1.88, 2.02, 1.97, 2.14, 2.03, 1.94,
          1.25, 1.56, 1.80, 1.83, 2.07, 1.75, 1.84, 1.81, 1.89, 1.73, 1.86, 1.86, 1.57, 1.97, 1.94, 1.88, 1.33, 1.68, 1.58, 1.56,
          1.42, 1.50, 1.77, 1.62, 1.77, 1.52, 1.64, 1.37, 1.52, 1.62, 1.45, 1.54, 1.52, 1.53, 1.47, 1.39, 1.45, 1.35, 1.30, 1.24,
          1.38, 1.43, 1.28, 1.54, 1.38, 1.20, 1.57, 1.34, 1.41, 1.09, 1.34, 1.39, 1.38, 1.60, 1.24, 1.11, 1.58, 1.41, 1.58, 1.37,
          1.24, 1.31, 1.52]

guider_h = [2.62, 2.64, 2.66,
            2.80, 2.82, 2.84, 2.86, 2.88, 2.90, 2.92, 2.94, 2.96, 2.98, 3.00, 3.02, 3.04, 3.06, 3.08,
            3.36, 3.38, 3.40, 3.42, 3.44, 3.46, 3.48, 3.50, 3.52, 3.54,
            3.82, 3.84, 3.86, 3.88, 3.90, 3.92, 3.94, 3.96, 3.98, 4.00, 4.02, 4.04, 4.06, 4.08, 4.10, 4.12, 4.14, 4.16, 4.18, 4.20,
            4.22, 4.24, 4.26, 4.28, 4.30,
            4.38, 4.40, 4.42, 4.44, 4.46, 4.48, 4.50, 4.52, 4.54, 4.56, 4.58, 4.60, 4.62, 4.64, 4.66, 4.68, 4.70, 4.72, 4.74, 4.76,
            4.86, 4.88, 4.89, 4.90, 4.92, 4.94,
            5.00, 5.02, 5.04, 5.06, 5.08,
            5.84, 5.86, 5.88, 5.90, 5.92, 5.94, 5.96, 5.98, 6.00, 6.02, 6.04, 6.06, 6.08, 6.10, 6.12, 6.14, 6.16,
            6.24, 6.26, 6.28, 6.30, 6.32, 6.34, 6.36, 6.38, 6.40, 6.42, 6.44, 6.46, 6.48, 6.50, 6.52,
            6.68, 6.70, 6.72, 6.74, 6.76, 6.78, 6.80, 6.82, 6.84, 6.86, 6.88, 6.90, 6.92, 6.94, 6.96, 6.98,
            7.38, 7.40, 7.42, 7.44, 7.46, 7.48, 7.50, 7.52, 7.54, 7.56, 7.58,
            7.82, 7.84, 7.86, 7.88, 7.90, 7.92, 7.94, 7.96, 7.98, 8.00, 8.02, 8.04, 8.06, 8.08, 8.10, 8.12, 8.14, 8.16, 8.18, 8.20,
            8.22, 8.24, 8.26, 8.28, 8.30, 8.32, 8.34, 8.36, 8.38, 8.40,
            10.38, 10.40, 10.42,
            10.52, 10.54, 10.56, 10.58, 10.60, 10.62, 10.64, 10.66, 10.68, 10.70, 10.72, 10.74, 10.76, 10.78, 10.80, 10.82, 10.84,
            10.86, 10.88, 10.90, 10.92, 10.94, 10.96, 10.98, 11.00, 11.02, 11.04, 11.06, 11.08,
            11.20, 11.22, 11.24, 11.26, 11.28, 11.30, 11.32, 11.34, 11.36, 11.38, 11.40, 11.42, 11.44, 11.46, 11.48, 11.50,
            11.68, 11.70, 11.72, 11.74, 11.76, 11.78, 11.80, 11.82, 11.84, 11.86, 11.88,
            11.96, 11.98, 12.00, 12.02, 12.04, 12.06, 12.08, 12.10, 12.12, 12.14, 12.16, 12.18, 12.20, 12.22, 12.24, 12.26, 12.28,
            12.30, 12.32, 12.34, 12.36, 12.38, 12.40, 12.42, 12.44, 12.46, 12.48, 12.50, 12.52]
guider_v = [0.45, 0.40, 0.35,
            0.25, 0.35, 0.15, 0.28, 0.20, 0.10, 0.25, 0.18, 0.30, 0.12, 0.22, 0.30, 0.15, 0.05, 0.20,
            0.25, 0.15, 0.30, 0.20, 0.12, 0.28, 0.35, 0.05, 0.22, 0.32,
            0.30, 0.20, 0.15, 0.28, 0.35, 0.10, 0.00, 0.18, 0.08, 0.15, 0.05, 0.12, -0.02, 0.10, 0.18, 0.05, 0.15, -0.05, 0.12, 0.22,
            0.30, 0.08, 0.20, 0.15, 0.02,
            0.20, 0.28, 0.15, 0.30, 0.22, 0.35, 0.18, 0.25, 0.32, 0.20, 0.28, 0.15, 0.25, 0.30, 0.18, 0.22, 0.28, 0.35, 0.45, 0.50,
            0.30, 0.15, -0.05, 0.05, 0.25, 0.35,
            0.30, 0.25, 0.35, 0.20, 0.15,
            0.45, 0.30, 0.40, 0.20, 0.35, 0.25, 0.40, 0.30, 0.20, 0.35, 0.25, 0.15, 0.30, 0.22, 0.28, 0.18, 0.12,
            0.30, 0.18, 0.35, 0.25, 0.15, 0.05, 0.20, 0.35, 0.45, 0.28, 0.15, 0.40, 0.30, 0.20, 0.10,
            0.25, 0.20, 0.15, 0.28, 0.18, 0.22, 0.25, 0.30, 0.22, 0.28, 0.32, 0.25, 0.30, 0.35, 0.38, 0.40,
            0.35, 0.25, 0.15, 0.30, 0.05, 0.20, 0.35, 0.25, 0.10, 0.30, 0.40,
            0.20, 0.28, 0.15, 0.30, 0.22, 0.35, 0.18, 0.40, 0.25, 0.30, 0.35, 0.22, 0.38, 0.28, 0.32, 0.40, 0.25, 0.35, 0.30, 0.42,
            0.28, 0.35, 0.20, 0.38, 0.25, 0.40, 0.30, 0.35, 0.28, 0.38,
            0.45, 0.30, 0.50,
            0.35, 0.48, 0.40, 0.55, 0.38, 0.50, 0.42, 0.58, 0.35, 0.48, 0.55, 0.30, 0.45, 0.52, 0.40, 0.60, 0.45,
            0.38, 0.55, 0.48, 0.35, 0.50, 0.42, 0.58, 0.45, 0.40, 0.52, 0.35, 0.48,
            0.45, 0.35, 0.50, 0.30, 0.42, 0.25, 0.38, 0.45, 0.28, 0.40, 0.35, 0.22, 0.45, 0.30, 0.20, 0.15,
            0.15, 0.05, 0.20, 0.10, 0.25, 0.02, 0.18, 0.30, 0.12, 0.35, 0.25,
            0.45, 0.35, 0.50, 0.40, 0.30, 0.45, 0.38, 0.48, 0.32, 0.42, 0.25, 0.38, 0.45, 0.30, 0.40, 0.35, 0.20,
            0.42, 0.30, 0.38, 0.25, 0.40, 0.45, 0.32, 0.38, 0.28, 0.40, 0.35, 0.38]

wfs_h = [2.62, 2.64, 2.66,
         4.84, 5.01,
         5.84, 5.86, 5.88, 5.90, 5.92, 5.94, 5.96, 5.98, 6.00, 6.02, 6.04,
         6.34,
         7.58, 7.60,
         8.10, 8.12, 8.14, 8.16, 8.20, 8.28, 8.30, 8.34, 8.38,
         10.33, 10.34, 10.35, 10.36, 10.38, 10.40,
         10.52, 10.54, 10.56, 10.58, 10.60, 10.62, 10.64, 10.66, 10.68, 10.70, 10.72, 10.74, 10.76, 10.78, 10.80, 10.82, 10.84,
         10.86, 10.88, 10.90, 10.92, 10.94, 10.96, 10.98, 11.00, 11.02, 11.04, 11.06, 11.08,
         11.20, 11.22, 11.24, 11.26, 11.28, 11.30, 11.32, 11.34, 11.36, 11.38, 11.40, 11.42,
         11.76, 11.80, 11.84,
         11.96, 11.98, 12.00, 12.02, 12.04, 12.06, 12.08, 12.10, 12.12, 12.14, 12.16, 12.18, 12.20, 12.22, 12.24, 12.26, 12.28,
         12.30, 12.32, 12.36, 12.38, 12.40]
wfs_v = [0.62, 0.55, 0.58,
         0.52, 0.55,
         0.55, 0.60, 0.50, 0.62, 0.55, 0.48, 0.58, 0.52, 0.56, 0.48, 0.52,
         0.55,
         0.80, 0.65,
         0.55, 0.62, 0.50, 0.58, 0.55, 0.68, 0.58, 0.70, 0.52,
         1.05, 0.90, 0.80, 0.70, 0.60, 0.50,
         0.55, 0.70, 0.60, 0.75, 0.55, 0.85, 0.65, 0.72, 0.58, 0.80, 0.62, 0.95, 0.70, 1.00, 0.75, 0.60, 0.85,
         0.68, 0.90, 0.62, 0.75, 0.58, 0.70, 0.62, 0.55, 0.68, 0.58, 0.65, 0.52,
         0.55, 0.62, 0.50, 0.58, 0.52, 0.60, 0.55, 0.65, 0.50, 0.58, 0.70, 0.82,
         0.50, 0.65, 0.75,
         0.55, 0.62, 0.50, 0.58, 0.65, 0.52, 0.60, 0.55, 0.62, 0.50, 0.58, 0.52, 0.55, 0.48, 0.55, 0.50, 0.45,
         0.52, 0.48, 0.65, 0.78, 0.55]

bliq_h = [2.62, 2.64, 2.66, 2.68,
          2.80, 2.82, 2.84, 2.86, 2.88, 2.90, 2.92, 2.94, 2.96, 2.98, 3.00, 3.02, 3.04, 3.06, 3.08,
          3.36, 3.38, 3.40, 3.42, 3.44, 3.46, 3.48, 3.50, 3.52, 3.54, 3.56,
          3.84, 3.86, 3.88, 3.90, 3.92, 3.94,
          4.02, 4.04, 4.06, 4.08, 4.10, 4.12, 4.14, 4.16, 4.18, 4.20, 4.22, 4.24, 4.26, 4.28, 4.30,
          4.38, 4.40, 4.42, 4.44, 4.46, 4.48, 4.50, 4.52, 4.54, 4.56, 4.58, 4.60, 4.62, 4.64, 4.66, 4.68, 4.70, 4.72, 4.74, 4.76,
          4.84, 4.85, 4.86, 4.87, 4.88, 4.89, 4.90, 4.92,
          5.00, 5.02, 5.04, 5.06, 5.08, 5.10,
          5.84, 5.86, 5.88, 5.90, 5.92, 5.93, 5.94, 5.96, 5.98, 6.00, 6.02, 6.04, 6.06, 6.08, 6.10, 6.12, 6.14, 6.16, 6.18,
          6.26, 6.28, 6.30, 6.32, 6.34, 6.36, 6.38, 6.40, 6.42, 6.44, 6.46, 6.48, 6.50, 6.52, 6.54,
          6.70, 6.72, 6.74, 6.76, 6.78, 6.80, 6.82, 6.84, 6.86, 6.88, 6.90, 6.92, 6.94, 6.96, 6.98, 7.00,
          7.40, 7.42, 7.44, 7.46, 7.48, 7.50, 7.52, 7.54, 7.56, 7.58, 7.60, 7.62,
          7.84, 7.86, 7.88, 7.90, 7.92, 7.94, 7.96, 7.98, 8.00, 8.02, 8.04, 8.06, 8.08, 8.10, 8.12, 8.14, 8.16, 8.18, 8.20, 8.22,
          8.24, 8.26, 8.28, 8.30, 8.32, 8.34, 8.36, 8.38, 8.40,
          10.35, 10.37, 10.38, 10.40, 10.42,
          10.56, 10.58, 10.60, 10.62, 10.64, 10.66, 10.68, 10.70, 10.72, 10.74, 10.76, 10.78, 10.80, 10.82, 10.84,
          10.86, 10.88, 10.90, 10.92, 10.94, 10.96, 10.98, 11.00, 11.02, 11.04, 11.06, 11.08, 11.10, 11.12, 11.14,
          11.22, 11.24, 11.26, 11.28, 11.30, 11.32, 11.34, 11.36, 11.38, 11.40, 11.42, 11.44, 11.46, 11.48, 11.50, 11.52,
          11.72, 11.74, 11.76, 11.78, 11.80, 11.82, 11.84, 11.86, 11.88,
          11.98, 12.00, 12.02, 12.04, 12.06, 12.08, 12.10, 12.12]
bliq_v = [0.92, 0.88, 0.86, 0.84,
          0.75, 0.70, 0.65, 0.60, 0.72, 0.55, 0.68, 0.62, 0.58, 0.66, 0.60, 0.55, 0.62, 0.58, 0.54,
          0.45, 0.40, 0.35, 0.42, 0.38, 0.48, 0.50, 0.43, 0.52, 0.46, 0.48,
          0.45, 0.42, 0.48, 0.40, 0.35, 0.38,
          0.35, 0.40, 0.38, 0.45, 0.35, 0.42, 0.48, 0.40, 0.45, 0.38, 0.48, 0.42, 0.35, 0.56, 0.45,
          0.25, 0.30, 0.28, 0.35, 0.32, 0.40, 0.36, 0.42, 0.38, 0.35, 0.40, 0.38, 0.42, 0.45, 0.40, 0.44, 0.48, 0.45, 0.42, 0.35,
          0.55, 0.65, 0.62, 0.70, 0.48, 0.58, 0.40, 0.38,
          0.25, 0.22, 0.30, 0.35, 0.32, 0.35,
          0.45, 0.38, 0.42, 0.30, 0.48, 0.72, 0.55, 0.40, 0.50, 0.45, 0.35, 0.50, 0.55, 0.42, 0.48, 0.55, 0.45, 0.35, 0.52,
          0.82, 0.78, 0.70, 0.65, 0.60, 0.55, 0.62, 0.50, 0.45, 0.38, 0.55, 0.70, 0.58, 0.52, 0.50,
          0.65, 0.62, 0.55, 0.70, 0.78, 0.72, 0.68, 0.65, 0.70, 0.62, 0.66, 0.60, 0.64, 0.58, 0.62, 0.59,
          0.72, 0.82, 0.65, 0.58, 0.50, 0.60, 0.45, 0.55, 0.48, 0.40, 0.52, 0.35,
          0.48, 0.55, 0.65, 0.75, 0.82, 0.85, 0.72, 0.68, 0.75, 0.65, 0.70, 0.58, 0.62, 0.70, 0.55, 0.45, 0.60, 0.52, 0.68, 0.75,
          0.58, 0.48, 0.62, 0.55, 0.50, 0.42, 0.55, 0.45, 0.50,
          0.40, 0.35, 0.50, 0.42, 0.55,
          0.30, 0.45, 0.40, 0.55, 0.48, 0.60, 0.42, 0.55, 0.62, 0.45, 0.38, 0.58, 0.65, 0.50, 0.80,
          0.55, 0.40, 0.52, 0.60, 0.45, 0.55, 0.40, 0.58, 0.50, 0.45, 0.72, 0.50, 0.42, 0.55, 0.40,
          0.55, 0.48, 0.35, 0.62, 0.85, 0.70, 0.78, 0.55, 0.72, 0.65, 0.50, 0.62, 0.45, 0.58, 0.52, 0.55,
          0.65, 0.60, 0.70, 0.58, 0.68, 0.62, 0.72, 0.60, 0.75,
          0.80, 0.75, 0.50, 0.55, 0.60, 0.45, 0.38, 0.42]

# reference band in the lower panel
band_lo, band_hi = 0.5, 1.0
band_start_h, band_end_h = 1.65, 12.82

tick_hours = [2, 3, 4, 5, 6, 7, 8, 9, 10, 11, 12, 13]
tick_labels = ["02:00", "03:00", "04:00", "05:00", "06:00", "07:00", "08:00", "09:00", "10:00", "11:00", "12:00", ""]
x_range_h = [1.336, 13.14]

for a, b in [(gc1_h, gc1_v), (gc2_h, gc2_v), (wfs1_h, wfs1_v), (dimm_h, dimm_v),
             (guider_h, guider_v), (wfs_h, wfs_v), (bliq_h, bliq_v)]:
    assert len(a) == len(b), (len(a), len(b))

base = pd.Timestamp("2026-02-20")


def to_dt(hours):
    return base + pd.to_timedelta(pd.Series(hours, dtype=float), unit="h")


FONT = "DejaVu Sans"
W, H = 1400, 700
OFF = 8  # the page body adds an 8px margin around the figure


def px_x(p):
    return (p - OFF) / W


def px_y(p):
    return 1 - (p - OFF) / H


fig = go.Figure()

# ---------------- top panel: DIQ ----------------
fig.add_trace(go.Scatter(
    x=to_dt(gc1_h), y=gc1_v, mode="markers", name="gc1", legend="legend", legendgroup="a",
    marker=dict(symbol="x-thin", size=9, line=dict(color="rgba(226,160,48,0.62)", width=2)),
    xaxis="x", yaxis="y"))
fig.add_trace(go.Scatter(
    x=to_dt(gc2_h), y=gc2_v, mode="markers", name="gc2", legend="legend2", legendgroup="d",
    marker=dict(symbol="cross-thin", size=10, line=dict(color="rgba(40,128,128,0.55)", width=2)),
    xaxis="x", yaxis="y"))
fig.add_trace(go.Scatter(
    x=to_dt(wfs1_h), y=wfs1_v, mode="lines+markers", name="wfs1", legend="legend", legendgroup="b",
    line=dict(color="rgba(190,190,190,0.8)", width=1),
    marker=dict(symbol="diamond", size=8.5, color="#FFC400", line=dict(color="#FF2400", width=1.2)),
    xaxis="x", yaxis="y"))
fig.add_trace(go.Scatter(
    x=[base], y=[None], mode="lines+markers", name="wfs2", legend="legend2", legendgroup="e",
    line=dict(color="rgba(190,190,190,0.8)", width=1),
    marker=dict(symbol="triangle-down", size=9, color="#555566", line=dict(color="#999999", width=1)),
    xaxis="x", yaxis="y"))
fig.add_trace(go.Scatter(
    x=to_dt(dimm_h), y=dimm_v, mode="lines+markers", name="dimm", legend="legend", legendgroup="c",
    line=dict(color="#0A0AE6", width=2),
    marker=dict(symbol="circle", size=7, color="#F2F24A", line=dict(color="#0A0AE6", width=1.6)),
    xaxis="x", yaxis="y"))

# ---------------- middle panel: Guider - WFS ----------------
fig.add_trace(go.Scatter(
    x=to_dt(guider_h), y=guider_v, mode="lines+markers", showlegend=False,
    line=dict(color="rgba(195,195,195,0.9)", width=1),
    marker=dict(symbol="circle", size=12, color="#800080", line=dict(color="#DCC6E4", width=1.8)),
    xaxis="x2", yaxis="y2"))
fig.add_trace(go.Scatter(
    x=to_dt(wfs_h), y=wfs_v, mode="lines+markers", showlegend=False,
    line=dict(color="rgba(195,195,195,0.9)", width=1),
    marker=dict(symbol="x", size=9, color="#FF0000", line=dict(width=0)),
    xaxis="x2", yaxis="y2"))

# ---------------- bottom panel: BLIQ ----------------
fig.add_trace(go.Scatter(
    x=to_dt(bliq_h), y=bliq_v, mode="markers", showlegend=False,
    marker=dict(symbol="circle", size=11, color="#000080", line=dict(color="#C4C4DA", width=1.5)),
    xaxis="x3", yaxis="y3"))

band_x = to_dt([band_start_h, band_end_h])
fig.add_shape(type="rect", xref="x3", yref="y3", x0=band_x[0], x1=band_x[1], y0=band_lo, y1=band_hi,
              fillcolor="rgba(255,0,0,0.06)", line=dict(width=0), layer="below")
for yv in (band_lo, band_hi):
    fig.add_shape(type="line", xref="x3", yref="y3", x0=band_x[0], x1=band_x[1], y0=yv, y1=yv,
                  line=dict(color="#C01818", width=1.2, dash="dash"))

# ---------------- axes ----------------
tick_dt = list(to_dt(tick_hours))
x_range = list(to_dt(x_range_h))
xdomain = [px_x(44), px_x(1378)]

xcommon = dict(range=x_range, tickvals=tick_dt, ticktext=tick_labels, showgrid=False,
               showline=True, linecolor="black", linewidth=1.3, ticks="inside", ticklen=5,
               tickcolor="#777777", tickfont=dict(family=FONT, size=14, color="#222222"),
               zeroline=False, domain=xdomain, automargin=False)
fig.update_layout(
    xaxis=dict(anchor="y", **xcommon),
    xaxis2=dict(anchor="y2", **xcommon),
    xaxis3=dict(anchor="y3", **xcommon),
)

ycommon = dict(showline=True, linecolor="black", linewidth=1.3, zeroline=False, automargin=False,
               gridcolor="#6E6E6E", gridwidth=1, ticks="outside", ticklen=4, tickcolor="#555555",
               ticklabelstandoff=3, tickfont=dict(family=FONT, size=14, color="#222222"))
fig.update_layout(
    yaxis=dict(anchor="x", domain=[px_y(338), px_y(40)], range=[0.28, 4.33],
               tickvals=[1, 2, 3, 4], ticktext=["1", "2", "3", "4"],
               minor=dict(dtick=0.1, showgrid=True, gridcolor="#E4E4E4", gridwidth=1), **ycommon),
    yaxis2=dict(anchor="x2", domain=[px_y(504), px_y(396)], range=[-1.24, 2.48],
                tickvals=[-1, -0.5, 0, 0.5, 1, 1.5, 2], ticktext=["-1", "", "0", "", "1", "", "2"],
                minor=dict(dtick=0.1, showgrid=True, gridcolor="#E8E8E8", gridwidth=1), **ycommon),
    yaxis3=dict(anchor="x3", domain=[px_y(671), px_y(561)], range=[-0.22, 1.99],
                tickvals=[0, 0.5, 1.0, 1.5], ticktext=["0", "0.5", "1.0", "1.5"],
                minor=dict(dtick=0.05, showgrid=True, gridcolor="#E6E6E6", gridwidth=1), **ycommon),
)

# ---------------- titles ----------------
xmid = (xdomain[0] + xdomain[1]) / 2
for text, py in [("DIQ - 2026-02-20", 24), ("Guider \u2014 WFS", 381), ("BLIQ+HO+LO \u2014 BLIQ+HO", 548)]:
    fig.add_annotation(text=text, x=xmid, y=px_y(py), xref="paper", yref="paper",
                       showarrow=False, xanchor="center", yanchor="middle",
                       font=dict(family=FONT, size=14, color="#222222"))

# legend frame
fig.add_shape(type="rect", xref="paper", yref="paper", x0=px_x(65), x1=px_x(241),
              y0=px_y(137), y1=px_y(45), line=dict(color="#222222", width=1.2), layer="above")

legend_common = dict(bgcolor="rgba(0,0,0,0)", borderwidth=0, yanchor="top", xanchor="left",
                     tracegroupgap=6, itemwidth=30, font=dict(family=FONT, size=13, color="#111111"))
fig.update_layout(
    legend=dict(x=px_x(62), y=px_y(49), **legend_common),
    legend2=dict(x=px_x(157), y=px_y(49), **legend_common),
    width=W, height=H,
    margin=dict(l=0, r=0, t=0, b=0),
    plot_bgcolor="white", paper_bgcolor="white",
    font=dict(family=FONT),
)

fig.write_html("out.html")
